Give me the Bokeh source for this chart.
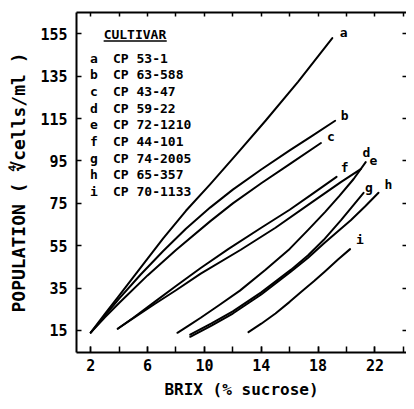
from bokeh.plotting import figure
from bokeh.models import FixedTicker, LinearAxis
from bokeh.core.properties import value
from bokeh.embed import file_html
from bokeh.resources import INLINE

# ---- data ----
cultivar_keys = ["a", "b", "c", "d", "e", "f", "g", "h", "i"]
cultivar_names = ["CP 53-1", "CP 63-588", "CP 43-47", "CP 59-22", "CP 72-1210",
                  "CP 44-101", "CP 74-2005", "CP 65-357", "CP 70-1133"]

a_x = [2, 3, 4, 5.5, 7.1, 8.7, 10.4, 12.3, 14.3, 16.6, 19]
a_y = [14, 22.8, 31.5, 44.5, 58.5, 71.5, 84, 98.5, 114, 132.5, 153]
b_x = [2, 3, 4, 5.5, 7.1, 8.7, 10.4, 12, 14, 16, 17.5, 19.2]
b_y = [14, 22, 30, 41.3, 52.5, 63, 73, 81.5, 91, 100, 106.5, 114]
c_x = [2, 3, 4, 6, 8, 10.4, 12, 14, 16, 18.2]
c_y = [14, 21.2, 28, 41, 53, 66.5, 75, 84.5, 93.5, 103.5]
d_x = [8.1, 9, 9.74, 11, 12.5, 14.3, 16, 17.3, 18.5, 19.5, 20.5, 21.35]
d_y = [13.9, 17.8, 21, 26.8, 33.8, 43.7, 53.5, 62.5, 71, 78.5, 86.5, 94.5]
e_x = [3.9, 5, 6.5, 8, 9.74, 12.56, 15, 17.5, 19.6, 21]
e_y = [15.8, 20.8, 27.5, 34, 41.8, 53.1, 63.5, 75.2, 85, 91.2]
f_x = [3.9, 5, 6.5, 8, 9.74, 11.7, 14, 16, 17.5, 19.3]
f_y = [15.8, 21, 28.5, 36, 44.5, 53.5, 63.5, 72, 79, 87.5]
g_x = [9.0, 10.5, 12, 14, 16.1, 17.3, 18.4, 19.6, 20.4, 21.2]
g_y = [13, 18.3, 24, 33, 43.7, 50.5, 57.8, 67, 73.5, 80]
h_x = [9.0, 10.5, 12, 14, 16.1, 17.3, 18.4, 19.4, 20.3, 21.3, 22.25]
h_y = [12, 17.3, 23, 32, 42.8, 49.3, 56, 61.8, 67, 73.5, 80]
i_x = [13.1, 14, 15, 16, 16.8, 17.7, 18.5, 19.4, 20.25]
i_y = [14.2, 18.2, 23, 28.5, 33.2, 38.2, 43, 48.5, 53.4]

label_x = [19.8, 19.87, 18.9, 21.4, 21.9, 19.87, 21.58, 22.95, 20.95]
label_y = [155.8, 116.6, 106.8, 98.9, 95.0, 91.9, 82.6, 84.0, 57.8]

x_ticks = [2, 4, 6, 8, 10, 12, 14, 16, 18, 20, 22, 24]
x_labeled = [2, 6, 10, 14, 18, 22]
y_ticks = [15, 35, 55, 75, 95, 115, 135, 155]

# ---- figure ----
FONT = "DejaVu Sans Mono"
p = figure(width=406, height=401, x_range=(1.0, 24.22), y_range=(4.6, 165.1),
           output_backend="svg", toolbar_location=None,
           min_border_left=76, min_border_right=0, min_border_top=12,
           min_border_bottom=48)
p.grid.visible = False
p.outline_line_color = None
p.background_fill_color = "white"
p.border_fill_color = "white"

xa = p.xaxis[0]
xa.ticker = FixedTicker(ticks=x_labeled, minor_ticks=x_ticks)
ya = p.yaxis[0]
ya.ticker = FixedTicker(ticks=y_ticks)

for ax in (xa, ya):
    ax.axis_line_width = 2
    ax.axis_line_color = "black"
    ax.major_tick_in = 5
    ax.major_tick_out = 0
    ax.major_tick_line_width = 1.5
    ax.minor_tick_in = 5
    ax.minor_tick_out = 0
    ax.minor_tick_line_width = 1.5
    ax.minor_tick_line_color = "black"
    ax.major_label_text_font = FONT
    ax.major_label_text_font_style = "bold"
    ax.major_label_text_font_size = "15px"
    ax.major_label_text_color = "black"
    ax.axis_label_text_font = FONT
    ax.axis_label_text_font_style = "bold"
    ax.axis_label_text_font_size = "16px"
    ax.axis_label_text_color = "black"

xa.major_tick_in = 6
xa.minor_tick_in = 6
xa.major_label_standoff = 6
xa.axis_label = "BRIX (% sucrose)"
xa.axis_label_standoff = 6
ya.minor_tick_line_color = None
ya.major_label_standoff = 9
ya.axis_label = "POPULATION ( \u221Ccells/ml )"
ya.axis_label_text_font_size = "18px"
ya.axis_label_standoff = 8

top = LinearAxis(ticker=FixedTicker(ticks=[], minor_ticks=x_ticks),
                 minor_tick_in=4, minor_tick_out=0, minor_tick_line_width=1.5,
                 minor_tick_line_color="black", major_label_standoff=0,
                 axis_line_width=2, axis_line_color="black")
p.add_layout(top, "above")
right = LinearAxis(ticker=FixedTicker(ticks=[], minor_ticks=y_ticks),
                   minor_tick_in=4, minor_tick_out=0, minor_tick_line_width=1.5,
                   minor_tick_line_color="black", major_label_standoff=0,
                   axis_line_color=None)
p.add_layout(right, "right")

# ---- curves ----
series = [(a_x, a_y), (b_x, b_y), (c_x, c_y), (d_x, d_y), (e_x, e_y),
          (f_x, f_y), (g_x, g_y), (h_x, h_y), (i_x, i_y)]
for xs, ys in series:
    p.line(xs, ys, line_color="black", line_width=2, line_join="round", line_cap="round")

p.text(x=label_x, y=label_y, text=cultivar_keys, text_font=value(FONT),
       text_font_style="bold", text_font_size="13px", text_color="black",
       text_align="center", text_baseline="middle")

# ---- legend block ----
p.text(x=[2.91], y=[154.6], text=["CULTIVAR"], text_font=value(FONT),
       text_font_style="bold", text_font_size="13px", text_color="black",
       text_align="left", text_baseline="middle")
p.segment(x0=[2.91], y0=[151.6], x1=[7.35], y1=[151.6], line_color="black", line_width=1.5)

row_y0, row_step = 143.5, 7.85
rows_y = [row_y0 - k * row_step for k in range(len(cultivar_keys))]
p.text(x=[1.95] * len(cultivar_keys), y=rows_y, text=cultivar_keys, text_font=value(FONT),
       text_font_style="bold", text_font_size="13px", text_color="black",
       text_align="left", text_baseline="middle")
p.text(x=[3.57] * len(cultivar_names), y=rows_y, text=cultivar_names, text_font=value(FONT),
       text_font_style="bold", text_font_size="13px", text_color="black",
       text_align="left", text_baseline="middle")

open("out.html", "w").write(file_html(p, INLINE))
